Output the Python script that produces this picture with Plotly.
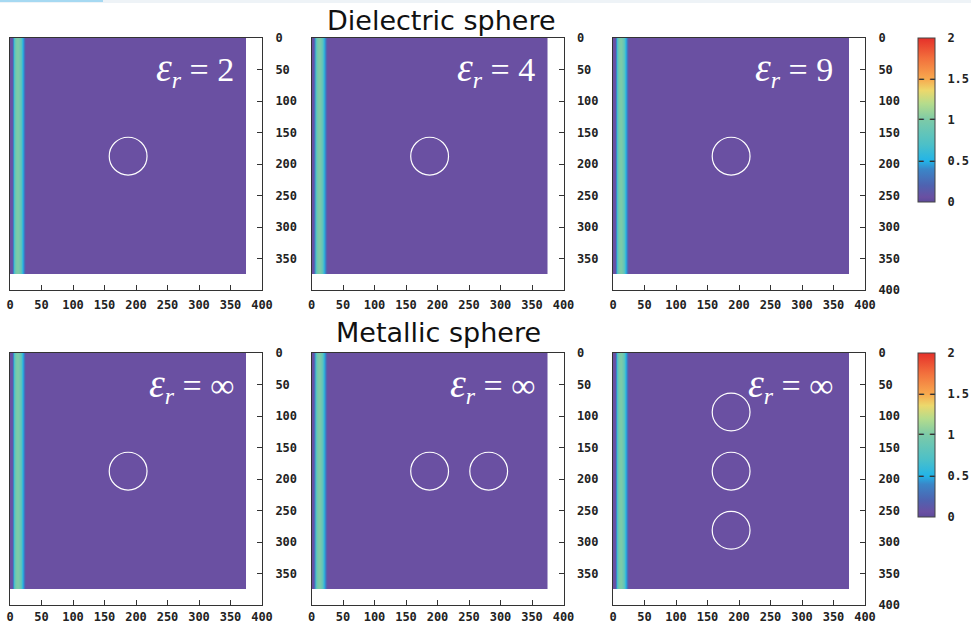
import plotly.graph_objects as go

# ---------------- data ----------------
# field profile across x (column edges in grid units, values), same in every panel
stripe_edges = [0, 1.5, 3, 4.5, 6, 7.5, 9, 10.5, 12, 13.5, 15, 16.5, 18, 19.5,
                21, 22.5, 24, 25.5, 27, 375]
stripe_values = [0.06, 0.06, 0.1, 0.4, 0.7, 0.88, 0.97, 1.0, 1.0, 0.98,
                 0.95, 0.88, 0.78, 0.6, 0.45, 0.3, 0.12, 0.06, 0.06]
field_rows = [0, 375]

panel_labels = ["2", "4", "9", "∞", "∞", "∞"]
# sphere centres (x, y) per panel, radius in grid units
sphere_x = [[187.5], [187.5], [187.5], [187.5], [187.5, 281.25], [187.5, 187.5, 187.5]]
sphere_y = [[187.5], [187.5], [187.5], [187.5], [187.5, 187.5], [93.75, 187.5, 281.25]]
sphere_r = 30

x_ticks = [0, 50, 100, 150, 200, 250, 300, 350, 400]
y_ticks_short = [0, 50, 100, 150, 200, 250, 300, 350]
y_ticks_full = [0, 50, 100, 150, 200, 250, 300, 350, 400]
cbar_ticks = [0, 0.5, 1, 1.5, 2]
cbar_labels = ["0", "0.5", "1", "1.5", "2"]
row_titles = ["Dielectric sphere", "Metallic sphere"]

# ---------------- layout geometry (px) ----------------
W, H = 971, 625
lefts = [10, 311.5, 613]
tops = [38, 353]
size = 252
cb_left, cb_w, cb_len = 918, 17, 164
x_standoff = [4, 1]

colorscale = [
    [0.0, "#5c4a9b"], [0.03, "#6a50a2"], [0.1, "#4f62b0"], [0.2, "#3a86c8"],
    [0.25, "#22b4e8"], [0.35, "#4cc0c8"], [0.5, "#7ccaa8"], [0.6, "#b5dc8c"],
    [0.68, "#ecd86c"], [0.75, "#f8a94e"], [0.88, "#f26e3c"], [1.0, "#e5302a"],
]

tickfont = dict(family="DejaVu Sans Mono", size=12, color="#222", weight="bold")

fig = go.Figure()
shapes = []
annotations = []
layout = {}

for i in range(6):
    r, c = divmod(i, 3)
    n = i + 1
    sfx = "" if n == 1 else str(n)
    l, t = lefts[c], tops[r]
    layout["xaxis" + sfx] = dict(
        domain=[l / W, (l + size) / W], anchor="y" + sfx, range=[0, 400],
        tickvals=x_ticks, ticktext=[str(v) for v in x_ticks],
        ticks="inside", ticklen=5, tickcolor="#333", showline=True, mirror=True,
        linecolor="#333", linewidth=1, showgrid=False, zeroline=False,
        tickfont=tickfont, ticklabelstandoff=x_standoff[r],
    )
    yt = y_ticks_full if c == 2 else y_ticks_short
    layout["yaxis" + sfx] = dict(
        domain=[1 - (t + size) / H, 1 - t / H], anchor="x" + sfx, range=[400, 0],
        side="right", tickvals=yt, ticktext=[str(v) for v in yt],
        ticks="inside", ticklen=5, tickcolor="#333", showline=True, mirror=True,
        linecolor="#333", linewidth=1, showgrid=False, zeroline=False,
        tickfont=tickfont, ticklabelstandoff=10,
    )
    fig.add_trace(go.Heatmap(
        x=stripe_edges, y=field_rows, z=[stripe_values],
        xaxis="x" + sfx, yaxis="y" + sfx,
        coloraxis="coloraxis" if r == 0 else "coloraxis2",
        zsmooth=False, hoverinfo="skip",
    ))
    for cx, cy in zip(sphere_x[i], sphere_y[i]):
        shapes.append(dict(type="circle", xref="x" + sfx, yref="y" + sfx,
                           x0=cx - sphere_r, x1=cx + sphere_r,
                           y0=cy - sphere_r, y1=cy + sphere_r,
                           line=dict(color="white", width=1.2)))
    annotations.append(dict(
        xref="x" + sfx, yref="y" + sfx, x=358 if c < 2 else 353, y=50,
        xanchor="right", yanchor="middle", showarrow=False,
        text='<span style="font-size:40px"><i>ε</i></span><sub><i>r</i></sub> = '
             + panel_labels[i],
        font=dict(family="Liberation Serif", size=34, color="white"),
    ))

title_y = [20, 332]
title_x = [441, 438]
for r in range(2):
    annotations.append(dict(
        xref="paper", yref="paper", x=title_x[r] / W, y=1 - title_y[r] / H,
        xanchor="center", yanchor="middle", showarrow=False,
        text=row_titles[r],
        font=dict(family="DejaVu Sans", size=27, color="#111"),
    ))

for r in range(2):
    key = "coloraxis" if r == 0 else "coloraxis2"
    layout[key] = dict(
        cmin=0, cmax=2, colorscale=colorscale,
        colorbar=dict(
            x=cb_left / W, xanchor="left", y=1 - tops[r] / H, yanchor="top",
            lenmode="pixels", len=cb_len, thicknessmode="pixels", thickness=cb_w,
            xpad=0, ypad=0, outlinecolor="#444", outlinewidth=1,
            tickvals=cbar_ticks, ticktext=cbar_labels,
            ticks="outside", ticklen=10, tickcolor="rgba(0,0,0,0)",
            tickfont=tickfont,
        ),
    )
    # tick dashes inside the bar on both sides (annotations sit above the colorbar)
    for v in cbar_ticks[1:-1]:
        yp = 1 - (tops[r] + cb_len * (1 - v / 2)) / H
        for xc in (cb_left + 3, cb_left + cb_w - 3):
            annotations.append(dict(
                xref="paper", yref="paper", x=xc / W, y=yp,
                xanchor="center", yanchor="middle", showarrow=False,
                text="━", font=dict(family="DejaVu Sans Mono", size=8, color="#333"),
            ))

# faint strip at the very top of the image
shapes.append(dict(type="rect", xref="paper", yref="paper", x0=0, x1=1,
                   y0=1 - 3 / H, y1=1, fillcolor="#eef3f7", line=dict(width=0), layer="below"))
shapes.append(dict(type="rect", xref="paper", yref="paper", x0=0, x1=103 / W,
                   y0=1 - 2 / H, y1=1, fillcolor="#a6d9f2", line=dict(width=0), layer="below"))

fig.update_layout(
    width=W, height=H, margin=dict(l=0, r=0, t=0, b=0, autoexpand=False),
    paper_bgcolor="white", plot_bgcolor="white", showlegend=False,
    shapes=shapes, annotations=annotations, **layout,
)

fig.write_html("out.html")
